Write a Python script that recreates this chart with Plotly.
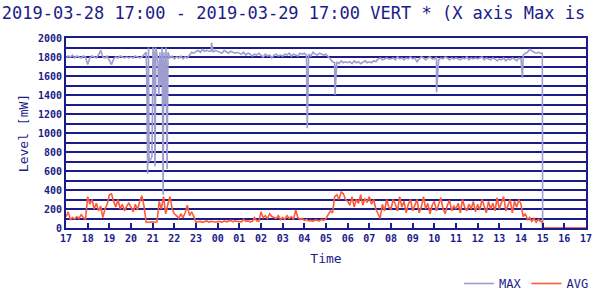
import pandas as pd
import plotly.graph_objects as go

START = "2019-03-28 17:00"
END = "2019-03-29 17:00"

# 6-minute samples from 17:00 to 14:54 (10 per hour), values in mW
max_values = [
    1790, 1810, 1800, 1820, 1790, 1810, 1800, 1790, 1810, 1800,  # 17
    1720, 1790, 1810, 1800, 1790, 1820, 1870, 1800, 1790, 1810,  # 18
    1760, 1720, 1780, 1800, 1790, 1810, 1800, 1790, 1800, 1790,  # 19
    1800, 1790, 1810, 1800, 1790, 1800, 1820, 1850, 1800, 1800,  # 20
    1800, 1800, 1800, 1800, 1800, 1800, 1800, 1800, 1790, 1810,  # 21
    1780, 1800, 1790, 1810, 1780, 1800, 1790, 1820, 1850, 1840,  # 22
    1860, 1870, 1850, 1880, 1860, 1870, 1860, 1860, 1850, 1870,  # 23
    1860, 1850, 1840, 1870, 1850, 1840, 1860, 1850, 1840, 1850,  # 00
    1840, 1830, 1850, 1820, 1840, 1830, 1810, 1830, 1820, 1840,  # 01
    1820, 1800, 1830, 1810, 1820, 1790, 1820, 1830, 1810, 1820,  # 02
    1810, 1830, 1820, 1840, 1810, 1830, 1820, 1810, 1840, 1830,  # 03
    1840, 1820, 1830, 1810, 1850, 1830, 1820, 1840, 1830, 1820,  # 04
    1830, 1810, 1780, 1750, 1740, 1750, 1730, 1760, 1740, 1750,  # 05
    1740, 1750, 1730, 1760, 1740, 1750, 1730, 1750, 1760, 1740,  # 06
    1750, 1740, 1760, 1750, 1780, 1790, 1770, 1780, 1790, 1780,  # 07
    1780, 1790, 1770, 1800, 1780, 1790, 1770, 1790, 1780, 1800,  # 08
    1780, 1790, 1750, 1780, 1800, 1790, 1770, 1790, 1800, 1780,  # 09
    1780, 1800, 1770, 1790, 1780, 1800, 1790, 1770, 1790, 1780,  # 10
    1790, 1780, 1770, 1790, 1780, 1800, 1770, 1790, 1780, 1790,  # 11
    1780, 1790, 1800, 1770, 1790, 1780, 1770, 1790, 1780, 1760,  # 12
    1780, 1770, 1790, 1760, 1780, 1770, 1790, 1780, 1760, 1790,  # 13
    1780, 1820, 1840, 1850, 1880, 1860, 1850, 1840, 1850, 1840,  # 14
]

avg_values = [
    120, 170, 90, 110, 95, 120, 100, 140, 110, 90,    # 17
    330, 250, 300, 200, 260, 180, 230, 110, 200, 250,  # 18
    350, 360, 280, 220, 300, 200, 250, 180, 230, 260,  # 19
    220, 170, 250, 190, 280, 340, 230, 60, 60, 65,     # 20
    65, 60, 65, 280, 200, 330, 150, 250, 330, 200,     # 21
    150, 130, 100, 150, 110, 160, 240, 130, 170, 120,  # 22
    60, 65, 70, 60, 65, 75, 60, 70, 65, 60,            # 23
    65, 70, 60, 75, 65, 70, 80, 65, 75, 70,            # 00
    70, 65, 90, 70, 75, 65, 70, 110, 75, 70,           # 01
    170, 110, 130, 100, 150, 120, 110, 100, 130, 90,   # 02
    110, 90, 130, 100, 120, 90, 190, 110, 90, 100,     # 03
    80, 90, 75, 80, 70, 85, 80, 75, 90, 80,            # 04
    100, 140, 180, 160, 330, 350, 300, 380, 360, 300,  # 05
    280, 240, 330, 220, 300, 260, 350, 240, 310, 270,  # 06
    330, 250, 300, 200, 150, 100, 250, 180, 300, 220,  # 07
    200, 300, 250, 180, 330, 220, 280, 160, 250, 300,  # 08
    180, 250, 300, 160, 220, 330, 200, 260, 150, 240,  # 09
    280, 180, 250, 320, 200, 150, 240, 290, 180, 230,  # 10
    200, 260, 160, 300, 220, 180, 250, 200, 280, 170,  # 11
    250, 190, 300, 230, 160, 280, 200, 260, 180, 320,  # 12
    200, 270, 330, 180, 250, 300, 160, 280, 220, 300,  # 13
    250, 120, 150, 90, 110, 70, 100, 60, 90, 70,       # 14
]

# extra MAX samples: the dropouts around 21:00 and single dips
max_extra_times = [
    "2019-03-28 20:44:00", "2019-03-28 20:46:00", "2019-03-28 20:48:30", "2019-03-28 20:50:00",
    "2019-03-28 20:54:00", "2019-03-28 20:58:00", "2019-03-28 21:01:00", "2019-03-28 21:04:00",
    "2019-03-28 21:06:30", "2019-03-28 21:09:00", "2019-03-28 21:13:00", "2019-03-28 21:15:00",
    "2019-03-28 21:17:00", "2019-03-28 21:20:00", "2019-03-28 21:23:00", "2019-03-28 21:26:00",
    "2019-03-28 21:29:00", "2019-03-28 21:31:00", "2019-03-28 21:34:00", "2019-03-28 21:37:00",
    "2019-03-28 21:40:00", "2019-03-28 21:42:30", "2019-03-28 23:43:00",
    "2019-03-29 04:08:00", "2019-03-29 05:25:00", "2019-03-29 10:06:00", "2019-03-29 14:04:00",
    "2019-03-29 14:59:00", "2019-03-29 15:00:00", "2019-03-29 17:00:00",
]
max_extra_values = [
    1450, 570, 1900, 700,
    720, 750, 1900, 1850,
    650, 1900, 1800, 1700,
    1400, 1850, 1500, 1900,
    350, 1850, 1300, 1900,
    620, 1850, 1950,
    1050, 1400, 1430, 1580,
    1840, 0, 0,
]
max_dropout_window = ["2019-03-28 20:42:30", "2019-03-28 21:44:00"]

avg_extra_times = ["2019-03-29 14:59:00", "2019-03-29 15:00:00", "2019-03-29 17:00:00"]
avg_extra_values = [70, 0, 0]

hour_labels = ["17", "18", "19", "20", "21", "22", "23", "00", "01", "02", "03", "04",
               "05", "06", "07", "08", "09", "10", "11", "12", "13", "14", "15", "16", "17"]

# ---- build series ----
base_t = pd.date_range(START, periods=len(max_values), freq="6min")
mx = pd.Series(max_values, index=base_t)
w0, w1 = pd.Timestamp(max_dropout_window[0]), pd.Timestamp(max_dropout_window[1])
mx = mx[(mx.index < w0) | (mx.index > w1)]
mx = pd.concat([mx, pd.Series(max_extra_values,
                              index=pd.to_datetime(max_extra_times, format="ISO8601"))]).sort_index()

av = pd.Series(avg_values, index=pd.date_range(START, periods=len(avg_values), freq="6min"))
av = pd.concat([av, pd.Series(avg_extra_values,
                              index=pd.to_datetime(avg_extra_times, format="ISO8601"))]).sort_index()

NAVY = "#1b1b8a"
MONO = "DejaVu Sans Mono"

fig = go.Figure()
fig.add_trace(go.Scatter(x=mx.index, y=mx.values, mode="lines", name="MAX",
                         line=dict(color="#9d9dd0", width=1.6)))
fig.add_trace(go.Scatter(x=av.index, y=av.values, mode="lines", name="AVG",
                         line=dict(color="#ff5a36", width=1.6)))

tickvals = pd.date_range(START, END, freq="1h")

fig.update_layout(
    width=600, height=300,
    margin=dict(l=66, r=14, t=38, b=72, autoexpand=False),
    paper_bgcolor="white", plot_bgcolor="white",
    title=dict(text="2019-03-28 17:00 - 2019-03-29 17:00 VERT * (X axis Max is",
               x=0.003, xanchor="left", xref="container", y=0.975, yanchor="top", yref="container",
               font=dict(family=MONO, size=17, color=NAVY)),
    showlegend=True,
    legend=dict(orientation="h", x=0.99, xanchor="right", xref="container",
                y=0.055, yanchor="middle", yref="container",
                font=dict(family=MONO, size=12, color=NAVY), bgcolor="rgba(0,0,0,0)",
                itemwidth=30, tracegroupgap=0),
    xaxis=dict(type="date", range=[START, END], tickvals=tickvals, ticktext=hour_labels,
               automargin=False,
               ticks="inside", ticklen=5, tickcolor=NAVY, tickwidth=1.5,
               showgrid=False, zeroline=False,
               showline=True, linecolor=NAVY, linewidth=2, mirror=True,
               tickfont=dict(family=MONO, size=10, color=NAVY, weight="bold"),
               title=dict(text="Time", standoff=11, font=dict(family=MONO, size=13, color=NAVY))),
    yaxis=dict(range=[0, 2000], dtick=200, ticks="", showgrid=True, gridcolor=NAVY, gridwidth=1.5,
               automargin=False,
               zeroline=False, showline=True, linecolor=NAVY, linewidth=2, mirror=True,
               minor=dict(dtick=100, showgrid=True, gridcolor=NAVY, gridwidth=1.5),
               tickfont=dict(family=MONO, size=10, color=NAVY, weight="bold"),
               title=dict(text="Level [mW]", standoff=6, font=dict(family=MONO, size=13, color=NAVY))),
)

fig.write_html("out.html")
